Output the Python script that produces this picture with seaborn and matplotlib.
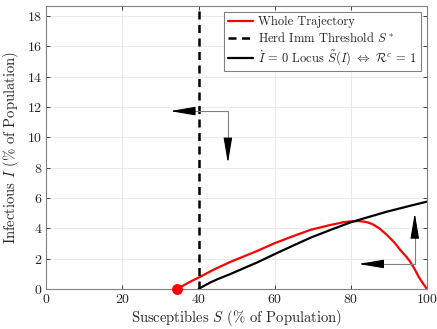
import numpy as np
import pandas as pd
import matplotlib
matplotlib.use("Agg")
import matplotlib.pyplot as plt
import seaborn as sns

# Data
traj_S = [34.3, 37.8, 40, 44, 48.3, 55.3, 60, 65, 69.4, 74.6, 78, 80, 82, 84, 85.5, 87.5, 89.5, 91.5, 93, 94.5, 95.6, 96.8, 97.8, 99, 100]
traj_I = [0.0, 0.48, 0.75, 1.28, 1.78, 2.5, 3.02, 3.5, 3.9, 4.22, 4.4, 4.46, 4.48, 4.42, 4.3, 4.0, 3.56, 3.05, 2.57, 2.15, 1.8, 1.3, 0.81, 0.35, 0.0]
locus_S = [40, 41, 43, 45, 48.3, 51.5, 55.3, 60, 65, 69.4, 74.6, 80, 85, 89.5, 95, 100]
locus_I = [0.0, 0.15, 0.42, 0.65, 0.98, 1.33, 1.74, 2.3, 2.88, 3.38, 3.89, 4.4, 4.77, 5.1, 5.45, 5.76]
herd_S = 40
start_S, start_I = 34.4, 0.0
arrow1 = dict(corner=(47.7, 11.73), left_tip=32.5, down_tip=8.3)
arrow2 = dict(corner=(96.8, 1.65), left_tip=82.0, up_tip=5.0)
xticks = [0, 20, 40, 60, 80, 100]
yticks = [0, 2, 4, 6, 8, 10, 12, 14, 16, 18]

sns.set_theme(style="whitegrid")
plt.rcParams["font.family"] = ["cmr10", "DejaVu Serif"]
plt.rcParams["mathtext.fontset"] = "cm"
plt.rcParams["axes.formatter.use_mathtext"] = True

fig = plt.figure(figsize=(4.37, 3.29), dpi=100)
ax = fig.add_axes([0.106, 0.1216, 0.871, 0.8602])

traj = pd.DataFrame({"S": traj_S, "I": traj_I})
locus = pd.DataFrame({"S": locus_S, "I": locus_I})

sns.lineplot(data=traj, x="S", y="I", ax=ax, color="#ff0000", lw=1.6, sort=False,
             label="Whole Trajectory")
ax.axvline(herd_S, color="black", lw=1.8, ls=(0, (3.2, 2.2)), label="Herd Imm Threshold $S^*$")
sns.lineplot(data=locus, x="S", y="I", ax=ax, color="black", lw=1.6, sort=False,
             label=r"$\dot{I}$ = 0 Locus $\tilde{S}(I)$ $\Leftrightarrow$ $\mathcal{R}^c$ = 1")
ax.plot([start_S], [start_I], "o", color="#ff0000", ms=6.8, zorder=5, clip_on=False)

# arrows
gray = "#808080"
for a, vert_tip in [(arrow1, arrow1["down_tip"]), (arrow2, arrow2["up_tip"])]:
    cx, cy = a["corner"]
    ax.plot([a["left_tip"] + 5, cx, cx], [cy, cy, vert_tip + (0.9 if vert_tip < cy else -0.9)],
            color=gray, lw=0.8)
    ax.annotate("", xy=(a["left_tip"], cy), xytext=(a["left_tip"] + 6.5, cy),
                arrowprops=dict(arrowstyle="-|>,head_length=1.3,head_width=0.22",
                                color="black", lw=0.8, shrinkA=0, shrinkB=0))
    ax.annotate("", xy=(cx, vert_tip), xytext=(cx, vert_tip + (1.6 if vert_tip < cy else -1.6)),
                arrowprops=dict(arrowstyle="-|>,head_length=1.3,head_width=0.22",
                                color="black", lw=0.8, shrinkA=0, shrinkB=0))

ax.set_xlim(0, 100)
ax.set_ylim(0, 18.66)
ax.set_xticks(xticks)
ax.set_yticks(yticks)
ax.set_xlabel(r"Susceptibles $S$ (% of Population)", fontsize=10.5, labelpad=1)
ax.set_ylabel(r"Infectious $I$ (% of Population)", fontsize=10.5, labelpad=4)
ax.tick_params(direction="in", length=3, width=0.6, colors="#262626", labelsize=10,
               top=True, right=True, bottom=True, left=True, pad=3)
ax.grid(True, color="#e6e6e6", lw=0.6)
for s in ax.spines.values():
    s.set_visible(True)
    s.set_color("#808080")
    s.set_linewidth(0.8)
ax.set_facecolor("white")

leg = ax.legend(loc="upper right", fontsize=9, frameon=True, fancybox=False,
                edgecolor="#808080", framealpha=1, borderpad=0.3, labelspacing=0.25,
                handlelength=2.0, handletextpad=0.4, borderaxespad=0.5)
leg.get_frame().set_linewidth(0.8)

fig.savefig("out.png", dpi=100)
